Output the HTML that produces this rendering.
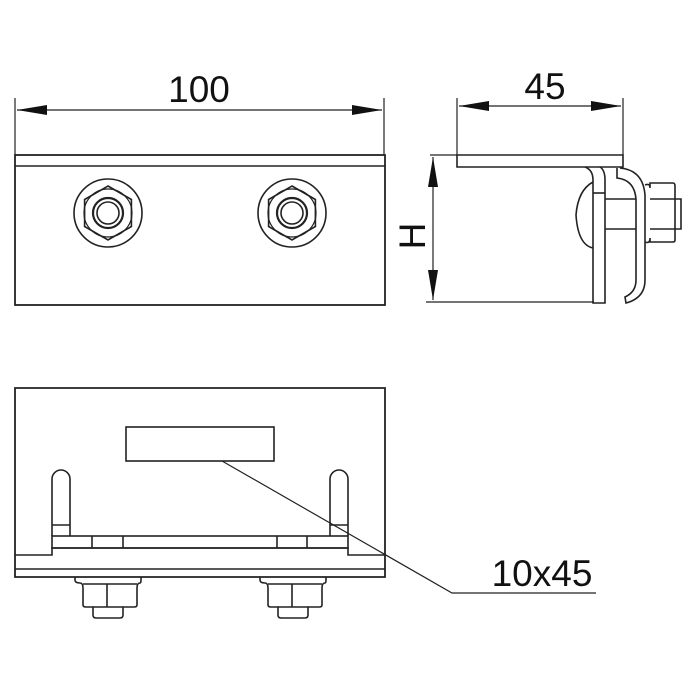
<!DOCTYPE html>
<html><head><style>html,body{margin:0;padding:0;background:#fff}svg{display:block}</style></head>
<body>
<svg width="700" height="700" viewBox="0 0 700 700" xmlns="http://www.w3.org/2000/svg">
<defs>
<marker id="ar" viewBox="0 0 30 10" refX="30" refY="5" markerWidth="30" markerHeight="10" markerUnits="userSpaceOnUse" orient="auto-start-reverse">
<path d="M0,0 L30,5 L0,10 Z" fill="#111"/>
</marker>
</defs>
<g fill="none" stroke="#222" stroke-width="1.6">
<!-- TOP VIEW -->
<line x1="15" y1="98" x2="15" y2="155" stroke-width="1.2"/>
<line x1="384" y1="98" x2="384" y2="155" stroke-width="1.2"/>
<line x1="17" y1="110" x2="382" y2="110" stroke-width="1.2" marker-start="url(#ar)" marker-end="url(#ar)"/>
<rect x="15" y="155" width="370" height="150" stroke-width="1.8"/>
<line x1="15" y1="166" x2="385" y2="166"/>
<g id="nut">
<circle cx="108" cy="213" r="34"/>
<polygon points="108,186 131.4,199.5 131.4,226.5 108,240 84.6,226.5 84.6,199.5"/>
<circle cx="108" cy="213" r="24" stroke-width="1.2"/>
<circle cx="108" cy="213" r="15" stroke-width="2.2"/>
<circle cx="108" cy="213" r="11"/>
</g>
<use href="#nut" x="184"/>
<!-- SIDE VIEW -->
<line x1="457" y1="98" x2="457" y2="155" stroke-width="1.2"/>
<line x1="623" y1="98" x2="623" y2="155" stroke-width="1.2"/>
<line x1="459" y1="106" x2="621" y2="106" stroke-width="1.2" marker-start="url(#ar)" marker-end="url(#ar)"/>
<line x1="430" y1="155" x2="457" y2="155" stroke-width="1.2"/>
<line x1="426" y1="302" x2="594" y2="302" stroke-width="1.2"/>
<line x1="433" y1="157" x2="433" y2="300" stroke-width="1.2" marker-start="url(#ar)" marker-end="url(#ar)"/>
<path d="M457,155 H623 V167 H457 Z"/>
<path d="M585,167 Q593,170 593,180 V303 H605 V180 Q605,170 600,167"/>
<line x1="593" y1="193" x2="605" y2="193"/>
<path d="M593,182 Q578,190 576,215 Q578,245 593,248"/>
<path d="M617,168 V178 Q635,180 636,200 V280 Q636,292 625,297 L626,303 Q645,298 645,280 V195 Q643,170 620,168"/>
<line x1="605" y1="199" x2="636" y2="199"/>
<line x1="605" y1="229" x2="636" y2="229"/>
<path d="M645,185 Q650,183 650,188 V183 H673 Q675,183 675,186 V240 Q675,242 673,242 H650 V238 Q650,244 645,242"/>
<line x1="650" y1="199" x2="675" y2="199"/>
<line x1="650" y1="229" x2="675" y2="229"/>
<path d="M675,199 H681 V229 H675"/>
<!-- BOTTOM VIEW -->
<path d="M15,388 H385 V577 H15 Z" stroke-width="1.8"/>
<line x1="15" y1="569" x2="385" y2="569"/>
<path d="M15,555 H52 V548 H348 V555 H385"/>
<rect x="52" y="536" width="296" height="12"/>
<line x1="92" y1="536" x2="92" y2="548"/>
<line x1="123" y1="536" x2="123" y2="548"/>
<line x1="277" y1="536" x2="277" y2="548"/>
<line x1="307" y1="536" x2="307" y2="548"/>
<path d="M52,536 V479 A9,9 0 0 1 70,479 V536"/>
<line x1="52" y1="525" x2="70" y2="525"/>
<path d="M330,536 V479 A9,9 0 0 1 348,479 V536"/>
<line x1="330" y1="525" x2="348" y2="525"/>
<rect x="126" y="427" width="148" height="34"/>
<polyline points="222,461 452,593 596,593" stroke-width="1.2"/>
<g id="bn">
<path d="M75,577 V580 Q75,583 80,583 Q83,583 83,588 V605 Q83,607 86,607 H93 V615 Q93,618 96,618 H120 Q123,618 123,615 V607 H134 Q137,607 137,605 V588 Q137,583 140,583 Q141,583 141,580 V577"/>
<line x1="83" y1="584" x2="137" y2="584"/>
<line x1="107" y1="584" x2="107" y2="607"/>
<line x1="93" y1="607" x2="123" y2="607"/>
</g>
<use href="#bn" x="185"/>
</g>
<g font-family="Liberation Sans, sans-serif" fill="#111">
<text x="199" y="102" font-size="37" text-anchor="middle">100</text>
<text x="545" y="99" font-size="37" text-anchor="middle">45</text>
<text x="542" y="586" font-size="37" text-anchor="middle">10x45</text>
<text transform="translate(425,236) rotate(-90)" font-size="37" text-anchor="middle">H</text>
</g>
</svg>
</body></html>
